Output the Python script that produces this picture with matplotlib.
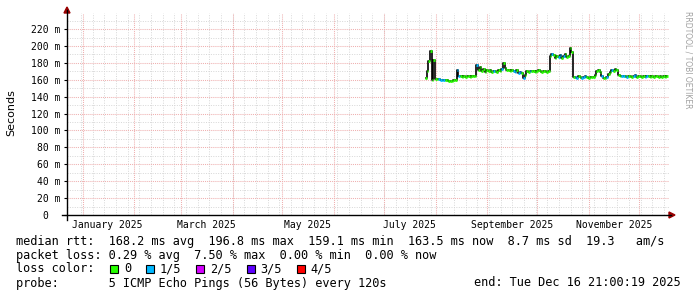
import matplotlib
matplotlib.use('Agg')
import matplotlib.pyplot as plt
import matplotlib.patches as patches
import matplotlib.transforms as transforms
from matplotlib.lines import Line2D
import numpy as np

W, H = 697, 297

#---------------------------- DATOS (dia del año 2025, 0 = 1 de enero) ----------------------------
first_day = 206
rtt_ms = [
    162, 170, 182, 194, 160, 183, 161, 161, 160.5, 160,
    160, 159.5, 160, 159.5, 159, 159, 159, 159.5, 160, 172,
    164, 164, 163.5, 164, 163.5, 164, 164, 163.5, 164, 164,
    164, 177, 171, 175, 170, 173, 169, 171, 170, 172,
    169, 170, 170, 169, 171, 170, 173, 180, 174, 171,
    172, 170, 171, 170, 169, 172, 168, 169, 168, 162,
    166, 170, 169, 170, 170.5, 170, 169.5, 170, 171, 170,
    169.5, 170, 170, 169.5, 170, 188, 190, 189, 186, 188,
    187, 189, 186, 188, 190, 187, 188, 197, 193, 163,
    163, 162, 164, 163, 162.5, 163, 164, 163, 162, 163,
    163.5, 163, 166, 170, 171, 169, 164, 162, 162, 163,
    167, 169, 171, 170, 173, 172, 166, 164, 165, 165,
    164, 163, 164, 165, 163, 164, 166, 163, 164, 165,
    163, 164, 163, 165, 164, 163, 164, 163, 165, 164,
    163, 164, 163, 164, 163, 164,
]
# dias con 1/5 de perdida (el resto 0)
loss_1of5_days = [214, 215, 216, 217, 225, 226, 237, 247, 252, 259, 260, 262, 263,
                  265, 269, 282, 286, 287, 289, 296, 297, 300, 301, 302, 312, 315,
                  318, 324, 325, 327, 331, 332, 338, 339]

month_starts = [0, 31, 59, 90, 120, 151, 181, 212, 243, 273, 304, 334]
month_label_days = [15, 74, 135, 196, 258, 319]
month_labels = ['January 2025', 'March 2025', 'May 2025', 'July 2025',
                'September 2025', 'November 2025']
week_lines = list(range(-1, 353, 7))

y_major = list(range(0, 240, 20))
y_minor = list(range(10, 240, 20))
y_labels = ['0  '] + ['%d m' % v for v in y_major[1:]]

loss_names = ['0', '1/5', '2/5', '3/5', '4/5']
loss_colors = ['#26ff00', '#00b8ff', '#d400ff', '#5e00ff', '#ff0000']

legend_lines = [
    'median rtt:  168.2 ms avg  196.8 ms max  159.1 ms min  163.5 ms now  8.7 ms sd  19.3   am/s',
    'packet loss: 0.29 % avg  7.50 % max  0.00 % min  0.00 % now',
    'loss color:',
    'probe:       5 ICMP Echo Pings (56 Bytes) every 120s',
]
end_text = 'end: Tue Dec 16 21:00:19 2025'


def px(x, y):
    # pixeles de la imagen -> coordenadas de figura
    return x / W, 1 - y / H


#---------------------------- FIGURA ----------------------------
fig = plt.figure(figsize=(W / 100, H / 100), dpi=100, facecolor='white')
left, top = px(67, 13)
right, bottom = px(669, 215)
ax = fig.add_axes([left, bottom, right - left, top - bottom])
ax.set_facecolor('white')

days = np.arange(first_day, first_day + len(rtt_ms))
rtt = np.array(rtt_ms)
colors = [loss_colors[1] if d in loss_1of5_days else loss_colors[0] for d in days]

ax.set_xlim(-9.4, 352.1)
ax.set_ylim(0, 239)

# grilla
for d in week_lines:
    ax.axvline(d, color='#d6d6d6', lw=0.7, ls=(0, (1, 1.5)), zorder=1)
for v in y_minor:
    ax.axhline(v, color='#d6d6d6', lw=0.7, ls=(0, (1, 1.5)), zorder=1)
for d in month_starts:
    ax.axvline(d, color='#efb0b0', lw=0.75, ls=(0, (1, 1)), zorder=2)
for v in y_major[1:]:
    ax.axhline(v, color='#efb0b0', lw=0.75, ls=(0, (1, 1)), zorder=2)

# mediana
ax.step(days, rtt, where='mid', color='black', lw=1.2, zorder=3)
ax.hlines(rtt, days - 0.5, days + 0.5, colors=colors, lw=2.0, zorder=4)

for s in ax.spines.values():
    s.set_visible(False)
ax.set_xticks([])
ax.set_yticks(y_major)
ax.set_yticklabels(y_labels, family='DejaVu Sans Mono', fontsize=7)
ax.tick_params(axis='y', length=2.5, width=0.8, pad=2, color='black')

trans = transforms.blended_transform_factory(ax.transData, ax.transAxes)
for d, lab in zip(month_label_days, month_labels):
    ax.text(d, -0.05, lab, transform=trans, ha='center', va='center',
            family='DejaVu Sans Mono', fontsize=7)

# ejes con flechas
ax_col = '#990000'
x0, y0 = px(67, 220)
x1, y1 = px(67, 10)
fig.add_artist(Line2D([x0, x1], [y0, y1], color='black', lw=1, transform=fig.transFigure))
fig.add_artist(patches.Polygon([px(64, 13), px(70, 13), px(67, 7)], closed=True,
                               color=ax_col, transform=fig.transFigure))
x0, y0 = px(62, 215)
x1, y1 = px(671, 215)
fig.add_artist(Line2D([x0, x1], [y0, y1], color='black', lw=1, transform=fig.transFigure))
fig.add_artist(patches.Polygon([px(669, 212), px(669, 218), px(675, 215)], closed=True,
                               color=ax_col, transform=fig.transFigure))

# etiquetas
fig.text(*px(11, 113), 'Seconds', rotation=90, ha='center', va='center',
         family='DejaVu Sans', fontsize=8)
fig.text(*px(688, 60), 'RRDTOOL / TOBI OETIKER', rotation=270, ha='center', va='center',
         family='DejaVu Sans', fontsize=5.5, color='#a0a0a0')

#---------------------------- LEYENDA ----------------------------
cw = 7.19
line_y = [241, 255, 269, 283]
for txt, yy in zip(legend_lines, line_y):
    fig.text(*px(16, yy), txt, ha='left', va='center',
             family='DejaVu Sans Mono', fontsize=8.6)
fig.text(*px(681, 283), end_text, ha='right', va='center',
         family='DejaVu Sans Mono', fontsize=8.6)

box_idx = [13, 18, 25, 32, 39]
for i, (name, col) in enumerate(zip(loss_names, loss_colors)):
    bx = 16 + box_idx[i] * cw
    fx, fy = px(bx + 0.5, 273)
    fig.add_artist(patches.Rectangle((fx, fy), 8 / W, 8 / H, facecolor=col,
                                     edgecolor='black', lw=0.8, transform=fig.transFigure))
    fig.text(*px(16 + (box_idx[i] + 2) * cw, 269), name, ha='left', va='center',
             family='DejaVu Sans Mono', fontsize=8.6)

fig.savefig('out.png', dpi=100, facecolor='white')
